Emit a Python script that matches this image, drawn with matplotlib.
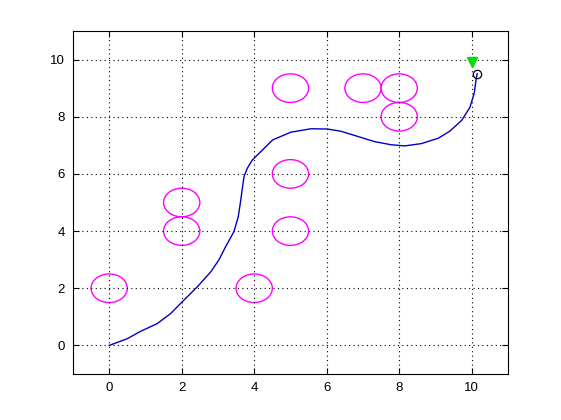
import matplotlib
matplotlib.use("Agg")
import matplotlib.pyplot as plt
from matplotlib.patches import Ellipse

# Obstacles (centres), radius 0.5
obs_x = [0, 2, 2, 4, 5, 5, 5, 7, 8, 8]
obs_y = [2, 4, 5, 2, 4, 6, 9, 9, 9, 8]
obs_r = 0.5

# Path
path_x = [0.0, 0.49, 0.86, 1.32, 1.69, 2.01, 2.43, 2.80, 3.03, 3.21, 3.44, 3.56, 3.63,
          3.68, 3.72, 3.81, 3.95, 4.23, 4.51, 5.01, 5.57, 6.03, 6.40, 6.86, 7.32,
          7.78, 8.15, 8.61, 9.08, 9.40, 9.72, 9.95, 10.07, 10.12, 10.15]
path_y = [0.0, 0.23, 0.49, 0.76, 1.11, 1.52, 2.05, 2.57, 3.00, 3.45, 3.98, 4.50, 5.09,
          5.56, 5.91, 6.20, 6.49, 6.84, 7.19, 7.46, 7.58, 7.57, 7.49, 7.31, 7.13,
          7.02, 6.98, 7.06, 7.25, 7.50, 7.87, 8.33, 8.83, 9.30, 9.51]

goal = (10, 10)
end = (10.15, 9.51)

xticks = [0, 2, 4, 6, 8, 10]
yticks = [0, 2, 4, 6, 8, 10]

plt.rcParams['font.family'] = ['Liberation Sans', 'DejaVu Sans']
fig = plt.figure(figsize=(5.61, 4.2), dpi=100)
ax = fig.add_axes([0.130, 0.1095, 0.7755, 0.8167])

for cx, cy in zip(obs_x, obs_y):
    ax.add_patch(Ellipse((cx, cy), 2 * obs_r, 2 * obs_r, fill=False,
                         edgecolor='#ff00ff', lw=1.0))

ax.plot(path_x, path_y, color='#0000c0', lw=1.0)
ax.plot([end[0]], [end[1]], marker='o', ms=6, mfc='none', mec='black', mew=0.9, ls='none')
ax.plot([goal[0]], [goal[1] - 0.1], marker='v', ms=7, color='#00dd00', ls='none')

ax.set_xlim(-1, 11)
ax.set_ylim(-1, 11)
ax.set_xticks(xticks)
ax.set_yticks(yticks)
ax.grid(True, color='black', linestyle=(0, (1, 3)), lw=0.8)
ax.tick_params(direction='in', top=True, right=True, length=4, labelsize=9.5, pad=6)
for s in ax.spines.values():
    s.set_linewidth(0.8)

fig.savefig('out.png', dpi=100)
